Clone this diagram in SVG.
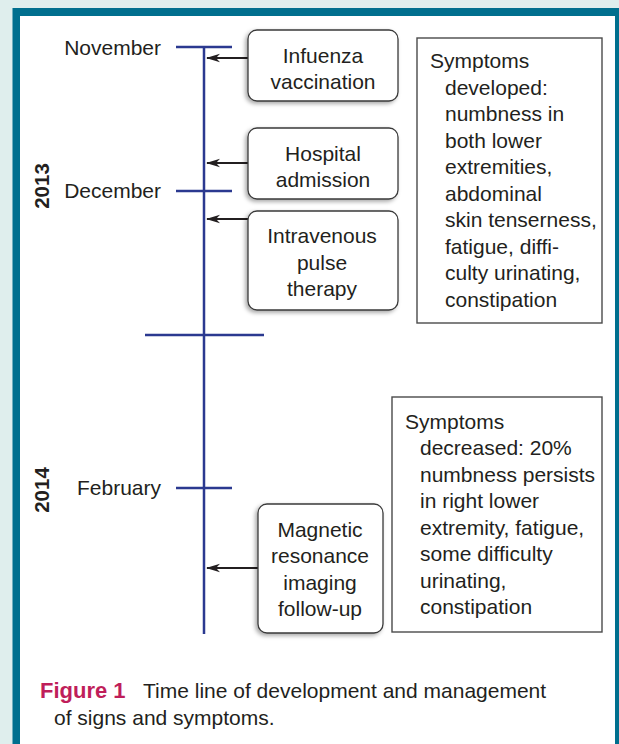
<svg xmlns="http://www.w3.org/2000/svg" width="619" height="744" viewBox="0 0 619 744">
<defs>
<style>
.t{font-family:"Liberation Sans",Arial,sans-serif;font-size:21px;fill:#231f20}
.c{text-anchor:middle}
.m{text-anchor:end}
.yr{font-family:"Liberation Sans",Arial,sans-serif;font-size:20.5px;font-weight:bold;fill:#231f20;text-anchor:middle}
.tl{stroke:#2b3990;stroke-width:2.5;fill:none}
.ev{fill:#fff;stroke:#3a3a3a;stroke-width:1.3;filter:url(#sh)}
.sy{fill:#fff;stroke:#4a4a4a;stroke-width:1.4}
.ar{stroke:#231f20;stroke-width:2;fill:none;marker-end:url(#ah)}
</style>
<filter id="sh" x="-20%" y="-20%" width="140%" height="140%">
<feDropShadow dx="-2" dy="2" stdDeviation="2" flood-color="#000" flood-opacity="0.35"/>
</filter>
<marker id="ah" viewBox="0 0 14 10" refX="13" refY="5" markerWidth="14" markerHeight="10" orient="auto" markerUnits="userSpaceOnUse">
<path d="M0,0.8 L14,5 L0,9.2 L4,5 Z" fill="#231f20" stroke="none"/>
</marker>
</defs>
<rect x="0" y="0" width="619" height="744" fill="#dfeeed"/>
<rect x="12.5" y="8" width="607" height="740" fill="#006f8e"/>
<rect x="20" y="16" width="595" height="732" fill="#fff"/>

<g id="timeline">
<line class="tl" x1="204" y1="47" x2="204" y2="634"/>
<line class="tl" x1="176" y1="47" x2="232" y2="47"/>
<line class="tl" x1="176" y1="191" x2="232" y2="191"/>
<line class="tl" x1="145" y1="335" x2="264" y2="335"/>
<line class="tl" x1="176" y1="488" x2="232" y2="488"/>
<text class="t m" x="161" y="55">November</text>
<text class="t m" x="161" y="198">December</text>
<text class="t m" x="161" y="495">February</text>
<text class="yr" transform="translate(49,186) rotate(-90)">2013</text>
<text class="yr" transform="translate(49,490) rotate(-90)">2014</text>
</g>

<g id="connectors">
<line class="ar" x1="248" y1="58" x2="207" y2="58"/>
<line class="ar" x1="248" y1="163" x2="207" y2="163"/>
<line class="ar" x1="248" y1="219" x2="207" y2="219"/>
<line class="ar" x1="258" y1="568" x2="207" y2="568"/>
</g>

<g id="influenza">
<rect class="ev" x="248" y="30" width="150" height="71" rx="9"/>
<text class="t c" x="323" y="63">Infuenza</text>
<text class="t c" x="323" y="89">vaccination</text>
</g>
<g id="hospital">
<rect class="ev" x="248" y="128" width="150" height="71" rx="9"/>
<text class="t c" x="323" y="161">Hospital</text>
<text class="t c" x="323" y="187">admission</text>
</g>
<g id="iv">
<rect class="ev" x="248" y="211" width="150" height="99" rx="9"/>
<text class="t c" x="322" y="243">Intravenous</text>
<text class="t c" x="322" y="270">pulse</text>
<text class="t c" x="322" y="296">therapy</text>
</g>
<g id="mri">
<rect class="ev" x="258" y="504" width="125" height="129" rx="9"/>
<text class="t c" x="320" y="537">Magnetic</text>
<text class="t c" x="320" y="563">resonance</text>
<text class="t c" x="320" y="590">imaging</text>
<text class="t c" x="320" y="616">follow-up</text>
</g>

<g id="symptoms1">
<rect class="sy" x="417" y="38" width="185" height="285"/>
<text class="t" x="430" y="68">Symptoms</text>
<text class="t" x="445" y="95">developed:</text>
<text class="t" x="445" y="121">numbness in</text>
<text class="t" x="445" y="148">both lower</text>
<text class="t" x="445" y="174">extremities,</text>
<text class="t" x="445" y="201">abdominal</text>
<text class="t" x="445" y="227">skin tenserness,</text>
<text class="t" x="445" y="254">fatigue, diffi-</text>
<text class="t" x="445" y="280">culty urinating,</text>
<text class="t" x="445" y="307">constipation</text>
</g>

<g id="symptoms2">
<rect class="sy" x="392" y="397" width="210" height="235"/>
<text class="t" x="405" y="429">Symptoms</text>
<text class="t" x="420" y="455">decreased: 20%</text>
<text class="t" x="420" y="482">numbness persists</text>
<text class="t" x="420" y="508">in right lower</text>
<text class="t" x="420" y="535">extremity, fatigue,</text>
<text class="t" x="420" y="561">some difficulty</text>
<text class="t" x="420" y="588">urinating,</text>
<text class="t" x="420" y="614">constipation</text>
</g>

<g id="caption">
<text class="t" x="40" y="698"><tspan style="font-weight:bold;fill:#bf1e5a;font-size:22px">Figure 1</tspan><tspan x="143">Time line of development and management</tspan></text>
<text class="t" x="54" y="725">of signs and symptoms.</text>
</g>
</svg>
